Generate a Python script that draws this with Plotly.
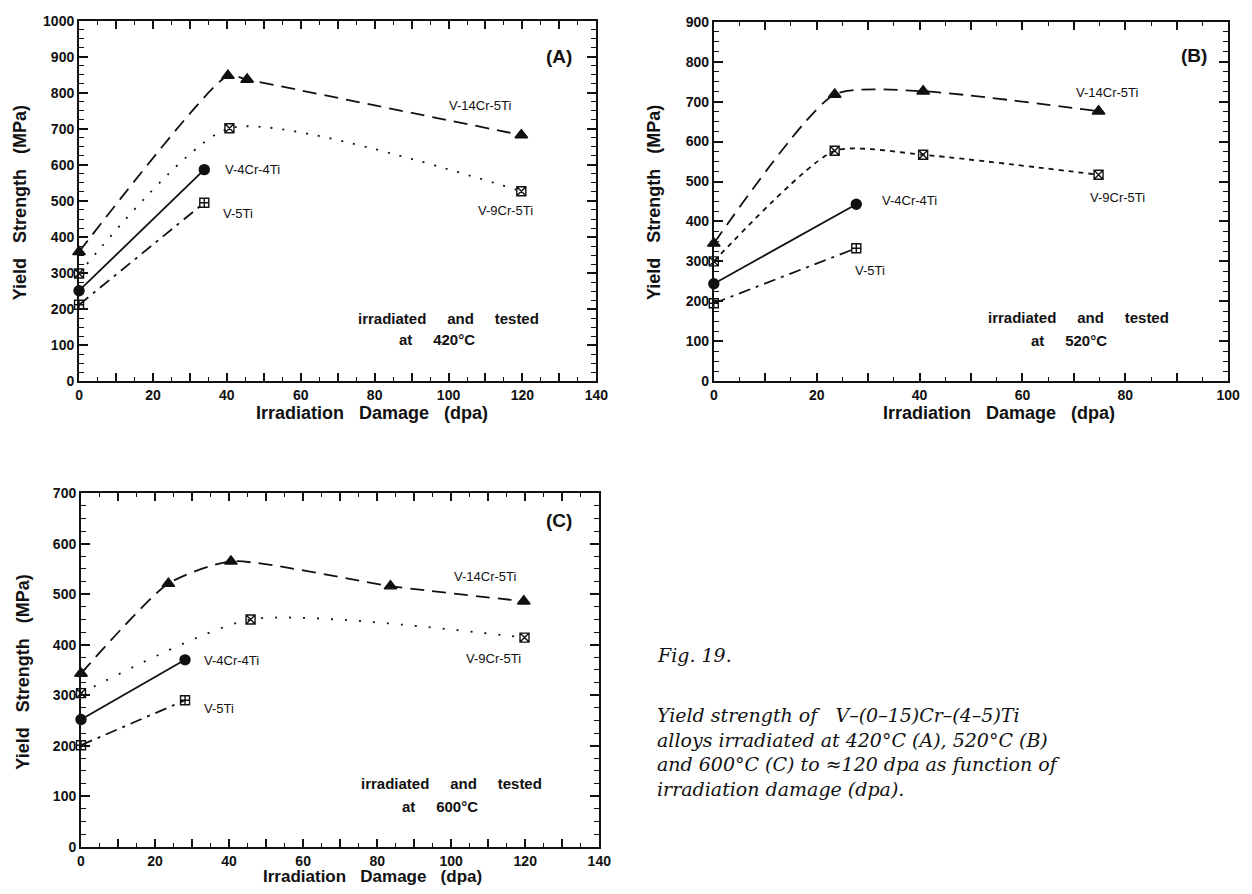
import plotly.graph_objects as go

W, H = 1252, 894

# ---------------- data ----------------
# Panel A : 420 C
a_cr14_x = [0, 40.3, 45.5, 119.7]
a_cr14_y = [359, 848, 837, 683]
a_cr9_x = [0, 40.7, 119.7]
a_cr9_y = [299, 702, 527]
a_cr4_x = [0, 33.9]
a_cr4_y = [251, 587]
a_ti5_x = [0, 33.9]
a_ti5_y = [212, 495]

# Panel B : 520 C
b_cr14_x = [0, 23.5, 40.7, 74.8]
b_cr14_y = [345, 718, 726, 676]
b_cr9_x = [0, 23.5, 40.7, 74.8]
b_cr9_y = [300, 577, 567, 517]
b_cr4_x = [0, 27.7]
b_cr4_y = [244, 443]
b_ti5_x = [0, 27.7]
b_ti5_y = [195, 333]

# Panel C : 600 C
c_cr14_x = [0, 23.6, 40.5, 83.6, 119.6]
c_cr14_y = [343, 521, 565, 516, 486]
c_cr9_x = [0, 45.8, 119.8]
c_cr9_y = [304, 450, 414]
c_cr4_x = [0, 28.1]
c_cr4_y = [252, 370]
c_ti5_x = [0, 28.1]
c_ti5_y = [201, 290]

alloys = ["V-14Cr-5Ti", "V-9Cr-5Ti", "V-4Cr-4Ti", "V-5Ti"]
panel_names = ["(A)", "(B)", "(C)"]
temps = ["420°C", "520°C", "600°C"]
x_ticks_140 = [0, 20, 40, 60, 80, 100, 120, 140]
x_ticks_100 = [0, 20, 40, 60, 80, 100]

# ---------------- layout helpers ----------------
def dom_x(l, r):
    return [l / W, r / W]

def dom_y(t, b):
    return [1 - b / H, 1 - t / H]

panels = [
    dict(xd=dom_x(76, 600), yd=dom_y(13, 380), xr=[0, 140], yr=[0, 1000], xt=x_ticks_140),
    dict(xd=dom_x(719, 1240), yd=dom_y(14, 380), xr=[0, 100], yr=[0, 900], xt=x_ticks_100),
    dict(xd=dom_x(78, 603), yd=dom_y(494, 854), xr=[0, 140], yr=[0, 700], xt=x_ticks_140),
]

fig = go.Figure()

BLACK = "#111111"
dash14 = "14px,8px"
dash9 = ["2px,10px", "5px,5px", "2px,12px"]
dash5 = "12px,6px,3px,6px"

data = [
    [(a_cr14_x, a_cr14_y), (a_cr9_x, a_cr9_y), (a_cr4_x, a_cr4_y), (a_ti5_x, a_ti5_y)],
    [(b_cr14_x, b_cr14_y), (b_cr9_x, b_cr9_y), (b_cr4_x, b_cr4_y), (b_ti5_x, b_ti5_y)],
    [(c_cr14_x, c_cr14_y), (c_cr9_x, c_cr9_y), (c_cr4_x, c_cr4_y), (c_ti5_x, c_ti5_y)],
]

for i, series in enumerate(data):
    xa = "x" if i == 0 else f"x{i+1}"
    ya = "y" if i == 0 else f"y{i+1}"
    styles = [
        dict(dash=dash14, symbol="triangle-up", size=11),
        dict(dash=dash9[i], symbol="square-x-open", size=9),
        dict(dash="solid", symbol="circle", size=10),
        dict(dash=dash5, symbol="square-cross-open", size=9),
    ]
    for (xs, ys), st, name in zip(series, styles, alloys):
        fig.add_trace(go.Scatter(
            x=xs, y=ys, mode="lines+markers", name=name, showlegend=False,
            xaxis=xa, yaxis=ya, cliponaxis=False,
            line=dict(color=BLACK, width=1.8, dash=st["dash"], shape="spline", smoothing=0.6),
            marker=dict(symbol=st["symbol"], size=st["size"], color=BLACK,
                        line=dict(color=BLACK, width=1.4)),
        ))

tickfont = dict(family="Liberation Sans, Arial, sans-serif", size=14, color=BLACK, weight="bold")

layout = dict(
    width=W, height=H, margin=dict(l=0, r=0, t=0, b=0),
    paper_bgcolor="white", plot_bgcolor="white", showlegend=False,
)
for i, p in enumerate(panels):
    sx = "" if i == 0 else str(i + 1)
    xr_max = p["xr"][1]
    xvals = list(range(0, xr_max + 1, 10))
    xtext = [str(v) if v in p["xt"] else "" for v in xvals]
    layout["xaxis" + sx] = dict(
        domain=p["xd"], range=p["xr"], anchor="y" + sx,
        tickmode="array", tickvals=xvals, ticktext=xtext,
        ticks="inside", ticklen=8, tickwidth=1.6, tickcolor=BLACK,
        minor=dict(tickmode="linear", tick0=0, dtick=5, ticks="inside", ticklen=4,
                   tickwidth=1.2, tickcolor=BLACK),
        showline=True, linecolor=BLACK, linewidth=2, mirror="ticks",
        showgrid=False, zeroline=False, tickfont=tickfont, ticklabelstandoff=0,
    )
    layout["yaxis" + sx] = dict(
        domain=p["yd"], range=p["yr"], anchor="x" + sx,
        tickmode="linear", tick0=0, dtick=100,
        ticks="inside", ticklen=9, tickwidth=1.6, tickcolor=BLACK,
        minor=dict(tickmode="linear", tick0=0, dtick=25, ticks="inside", ticklen=5,
                   tickwidth=1.2, tickcolor=BLACK),
        showline=True, linecolor=BLACK, linewidth=2, mirror="ticks",
        showgrid=False, zeroline=False, tickfont=tickfont, ticklabelstandoff=0,
    )
fig.update_layout(**layout)

NB = "\u00a0"
lbl_font = dict(family="Liberation Sans, Arial, sans-serif", size=13, color=BLACK)
bold_font = dict(family="Liberation Sans, Arial, sans-serif", size=15, color=BLACK)
big_font = dict(family="Liberation Sans, Arial, sans-serif", size=19, color=BLACK)
title_font = dict(family="Liberation Sans, Arial, sans-serif", size=18, color=BLACK)
title_font_c = dict(family="Liberation Sans, Arial, sans-serif", size=17, color=BLACK)

# label positions (data coords) per panel
label_pos = [
    [(108.6, 764), (115.5, 474), (47, 587), (43, 465)],
    [(76.4, 723), (78.4, 459), (38, 453), (30.4, 277)],
    [(109, 535), (111.5, 372), (40.7, 368), (37.2, 273)],
]
name_pos = [(130, 902), (93.3, 815), (129, 646)]
cond_pos = [[(100, 175), (97, 115)], [(71, 159), (69, 102)], [(100, 125), (97, 79)]]

ann = []
for i in range(3):
    sx = "" if i == 0 else str(i + 1)
    for (lx, ly), name in zip(label_pos[i], alloys):
        ann.append(dict(x=lx, y=ly, xref="x" + sx, yref="y" + sx, text=name,
                        showarrow=False, font=lbl_font))
    ann.append(dict(x=name_pos[i][0], y=name_pos[i][1], xref="x" + sx, yref="y" + sx,
                    text="<b>" + panel_names[i] + "</b>", showarrow=False, font=big_font))
    ann.append(dict(x=cond_pos[i][0][0], y=cond_pos[i][0][1], xref="x" + sx, yref="y" + sx,
                    text="<b>irradiated" + NB * 5 + "and" + NB * 5 + "tested</b>",
                    showarrow=False, font=bold_font))
    ann.append(dict(x=cond_pos[i][1][0], y=cond_pos[i][1][1], xref="x" + sx, yref="y" + sx,
                    text="<b>at" + NB * 5 + temps[i] + "</b>",
                    showarrow=False, font=bold_font))

# axis titles (paper coords, pixel-based)
ytitle = "<b>Yield" + NB * 3 + "Strength" + NB * 3 + "(MPa)</b>"
xtitle = "<b>Irradiation" + NB * 3 + "Damage" + NB * 3 + "(dpa)</b>"
for (px, py) in [(17, 198), (659, 198), (19, 676)]:
    ann.append(dict(x=px / W, y=1 - py / H, xref="paper", yref="paper", text=ytitle,
                    textangle=-90, showarrow=False, font=title_font,
                    xanchor="center", yanchor="middle"))
for (px, py, f) in [(373, 412, title_font), (1008, 412, title_font), (373, 884, title_font_c)]:
    ann.append(dict(x=px / W, y=1 - py / H, xref="paper", yref="paper", text=xtitle,
                    showarrow=False, font=f, xanchor="center", yanchor="middle"))

# caption
cap_font = dict(family="DejaVu Serif, serif", size=19, color=BLACK)
fig_label = "Fig. 19."
caption_lines = [
    "Yield strength of" + NB * 3 + "V–(0–15)Cr–(4–5)Ti",
    "alloys irradiated at 420°C (A), 520°C (B)",
    "and 600°C (C) to ≈120 dpa as function of",
    "irradiation damage (dpa).",
]
ann.append(dict(x=659 / W, y=1 - 659 / H, xref="paper", yref="paper",
                text="<i>" + fig_label + "</i>", showarrow=False, font=cap_font,
                xanchor="left", yanchor="middle"))
ann.append(dict(x=659 / W, y=1 - 758 / H, xref="paper", yref="paper",
                text="<br>".join("<i>" + t + "</i>" for t in caption_lines),
                showarrow=False, font=cap_font, align="left",
                xanchor="left", yanchor="middle"))

fig.update_layout(annotations=ann)
fig.write_html("out.html", config={"displayModeBar": False},
               post_script="document.body.style.margin='0';document.body.style.overflow='hidden';")
